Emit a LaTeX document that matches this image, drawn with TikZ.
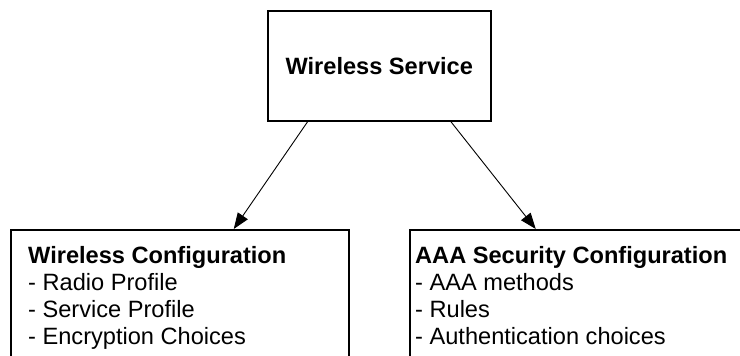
\documentclass[tikz,border=0pt]{standalone}
\usepackage{fontspec}
\setmainfont{Liberation Sans}
\usetikzlibrary{arrows.meta}
\begin{document}
\begin{tikzpicture}[x=1pt,y=-1pt,
  box/.style={draw, line width=1.5pt, rectangle, inner sep=0pt, anchor=north west},
  txt/.style={font=\fontsize{23.6}{27.3}\selectfont, inner sep=0pt, align=left, anchor=north west},
  arr/.style={line width=0.9pt, -{Triangle[length=16pt,width=12pt]}}]
\useasboundingbox (0,0) rectangle (740,356);
\clip (0,0) rectangle (740,356);
\node[box, minimum width=223pt, minimum height=110pt, font=\fontsize{23.6}{27.3}\selectfont\bfseries] (ws) at (267,10) {Wireless Service};
\node[box, minimum width=338pt, minimum height=160pt] (wc) at (10,229) {};
\node[box, minimum width=360pt, minimum height=160pt] (aaa) at (409,229) {};
\node[txt] (wct) at (28,245.7) {\textbf{Wireless Configuration}\\- Radio Profile\\- Service Profile\\- Encryption Choices};
\node[txt] (aaat) at (415,245.7) {\textbf{AAA Security Configuration}\\- AAA methods\\- Rules\\- Authentication choices};
\draw[arr] ([xshift=-71.5pt]ws.south) -- ([xshift=54pt]wc.north);
\draw[arr] ([xshift=71.5pt]ws.south) -- ([xshift=-54pt]aaa.north);
\end{tikzpicture}
\end{document}
